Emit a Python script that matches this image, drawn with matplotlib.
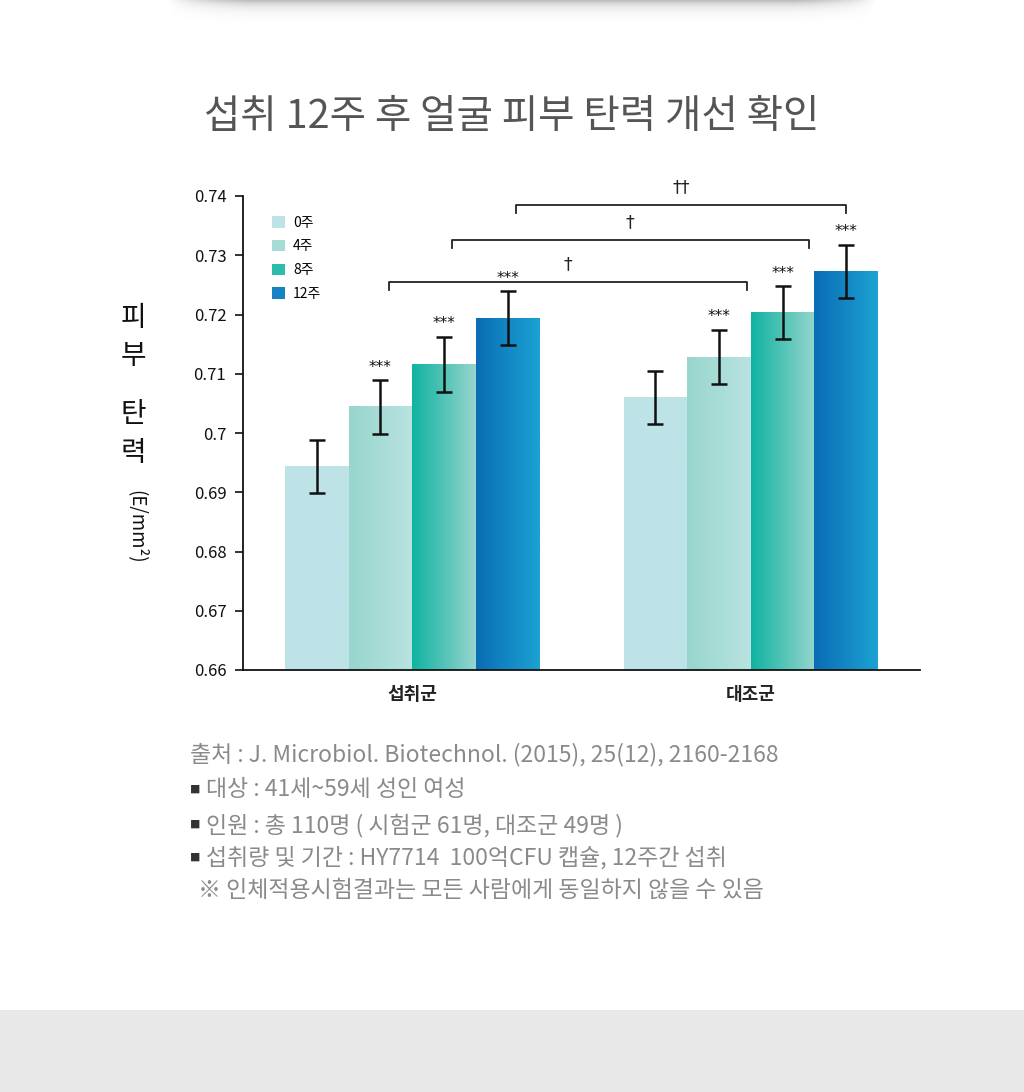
import numpy as np
import matplotlib
matplotlib.use("Agg")
import matplotlib.pyplot as plt
from matplotlib.colors import LinearSegmentedColormap
from matplotlib.patches import Patch, Rectangle

plt.rcParams['font.family'] = ['Noto Sans CJK KR', 'DejaVu Sans']

# data
groups = ["섭취군", "대조군"]
weeks = ["0주", "4주", "8주", "12주"]
intake = [0.6943, 0.7044, 0.7116, 0.7194]
intake_err = [0.0045, 0.0045, 0.0046, 0.0045]
control = [0.7060, 0.7128, 0.7203, 0.7273]
control_err = [0.0045, 0.0046, 0.0045, 0.0045]
# stars shown above the bars (group, week index)
stars = [(0, 1), (0, 2), (0, 3), (1, 1), (1, 2), (1, 3)]
# comparison brackets: week index, bracket level (y), label
brackets = [(1, 0.7255, "†"), (2, 0.7326, "†"), (3, 0.7385, "††")]
yticks = [0.66, 0.67, 0.68, 0.69, 0.70, 0.71, 0.72, 0.73, 0.74]
ytick_labels = ["0.66", "0.67", "0.68", "0.69", "0.7", "0.71", "0.72", "0.73", "0.74"]

# left / right colours of the bar gradients
grad_colors = [("#bde3e8", "#bde3e8"),
               ("#98d6cd", "#b9e3e1"),
               ("#10b3a1", "#95d5cd"),
               ("#0a6db5", "#1ca2d3")]
legend_colors = ["#bde3e8", "#a5dcd5", "#2cbcab", "#1583c3"]

fig = plt.figure(figsize=(10.24, 10.92), dpi=100)
fig.patch.set_facecolor("white")

# top shadow strip
sh = fig.add_axes([0.16, 1 - 22 / 1092, 0.70, 22 / 1092])
xx = np.linspace(-1, 1, 300)
yy = np.linspace(0, 1, 30)
fade = np.clip(1.25 - np.abs(xx) ** 6 * 1.3, 0, 1)
alpha = np.outer(np.exp(-yy * 3.5), fade) * 0.27
rgba = np.zeros((30, 300, 4))
rgba[..., 3] = alpha
sh.imshow(rgba, aspect="auto", extent=[0, 1, 1, 0])
sh.axis("off")

# bottom grey band
fig.patches.append(Rectangle((0, 0), 1, 82 / 1092, transform=fig.transFigure,
                             facecolor="#e8e8e8", edgecolor="none", zorder=0))

ax = fig.add_axes([243 / 1024, 422 / 1092, 677 / 1024, 474 / 1092])

width = 0.1876
x = np.arange(len(groups))
values = [intake, control]
errors = [intake_err, control_err]

centers = {}
for g in range(len(groups)):
    for i in range(len(weeks)):
        xc = x[g] + (i - 1.5) * width
        centers[(g, i)] = xc
        v = values[g][i]
        bar = ax.bar(xc, v - 0.66, width, bottom=0.66, color=grad_colors[i][0],
                     linewidth=0, zorder=2)[0]
        cmap = LinearSegmentedColormap.from_list("g", grad_colors[i])
        ax.imshow(np.linspace(0, 1, 64).reshape(1, -1), cmap=cmap, aspect="auto",
                  extent=[xc - width / 2, xc + width / 2, 0.66, v], zorder=2.1)
        ax.errorbar(xc, v, yerr=errors[g][i], color="#111111", elinewidth=1.8,
                    capsize=6, capthick=1.8, zorder=3)

for g, i in stars:
    top = values[g][i] + errors[g][i]
    ax.annotate("***", (centers[(g, i)], top), xytext=(0, 4), textcoords="offset points",
                ha="center", va="bottom", fontsize=11, color="#111111",
                family=['DejaVu Sans'])

# brackets between the same week of both groups
right_shift = {1: 0.083, 2: 0.077, 3: 0.0}
for i, yb, label in brackets:
    x0 = centers[(0, i)] + 0.024
    x1 = centers[(1, i)] + right_shift[i]
    ax.plot([x0, x0, x1, x1], [yb - 0.0013, yb, yb, yb - 0.0013], color="#222222",
            lw=1.3, zorder=3, clip_on=False)
    ax.text((x0 + x1) / 2, yb + 0.0014, label, ha="center", va="bottom",
            fontsize=12.5, color="#222222", family=['DejaVu Sans'])

ax.set_xlim(-0.5, 1.5)
ax.set_ylim(0.66, 0.74)
ax.set_yticks(yticks)
ax.set_yticklabels(ytick_labels)
ax.set_xticks(x)
ax.set_xticklabels(groups, fontsize=13, fontweight="bold", color="#222222")
ax.tick_params(axis="x", length=0, pad=11)
ax.tick_params(axis="y", length=6, width=1.2, labelsize=12, pad=6, colors="#111111")
for s in ["top", "right"]:
    ax.spines[s].set_visible(False)
for s in ["left", "bottom"]:
    ax.spines[s].set_linewidth(1.3)
    ax.spines[s].set_color("#111111")

handles = [Patch(facecolor=c, edgecolor="none", label=w) for c, w in zip(legend_colors, weeks)]
ax.legend(handles=handles, loc="upper left", bbox_to_anchor=(0.035, 0.97), frameon=False,
          fontsize=10, handlelength=0.9, handleheight=0.9, handletextpad=0.6,
          labelspacing=0.7, borderaxespad=0)

# title
fig.text(0.5, 1 - 117 / 1092, "섭취 12주 후 얼굴 피부 탄력 개선 확인", ha="center", va="center",
         fontsize=28.5, color="#555555", fontweight="light")

# vertical y label
for ch, yp in zip(["피", "부", "탄", "력"], [318, 356, 414, 453]):
    fig.text(133 / 1024, 1 - yp / 1092, ch, ha="center", va="center", fontsize=20, color="#111111")
fig.text(137 / 1024, 1 - 527 / 1092, "(E/mm²)", ha="center", va="center", rotation=-90,
         fontsize=13.5, color="#111111", fontweight="light")

# footnotes
notes = ["출처 : J. Microbiol. Biotechnol. (2015), 25(12), 2160-2168",
         "대상 : 41세~59세 성인 여성",
         "인원 : 총 110명 ( 시험군 61명, 대조군 49명 )",
         "섭취량 및 기간 : HY7714  100억CFU 캡슐, 12주간 섭취",
         "※ 인체적용시험결과는 모든 사람에게 동일하지 않을 수 있음"]
note_y = [755, 790, 825, 858, 890]
for k, (t, yp) in enumerate(zip(notes, note_y)):
    xp = 190
    if 1 <= k <= 3:
        fig.text(190 / 1024, 1 - yp / 1092, "■", ha="left", va="center", fontsize=7.5,
                 color="#333333")
        xp = 206
    if k == 4:
        xp = 198
    fig.text(xp / 1024, 1 - yp / 1092, t, ha="left", va="center", fontsize=16.5,
             color="#8a8a8a", fontweight="light")

fig.savefig("out.png", dpi=100, facecolor="white")
